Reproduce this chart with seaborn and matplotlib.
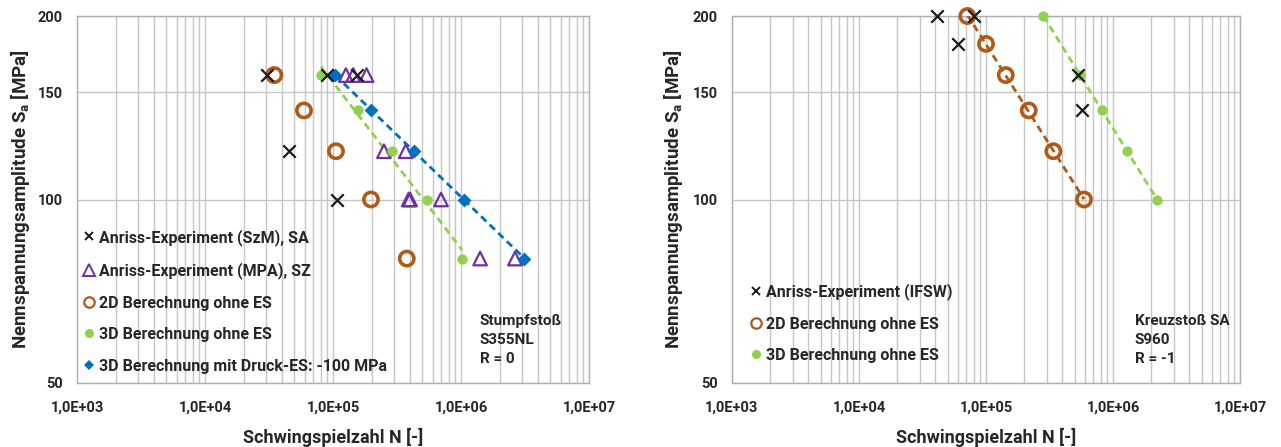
import numpy as np
import pandas as pd
import seaborn as sns
import matplotlib
matplotlib.use("Agg")
import matplotlib.pyplot as plt
from matplotlib.lines import Line2D
from matplotlib.ticker import FixedLocator, LogLocator, NullFormatter, FixedFormatter, NullLocator

# ---- Stumpfstoß S355NL, R = 0 ----
szm_N = [3.03e4, 9.03e4, 1.55e5, 4.56e4, 1.08e5]
szm_S = [160, 160, 160, 120, 100]
mpa_N = [1.26e5, 1.44e5, 1.83e5, 2.50e5, 3.70e5, 3.90e5, 4.00e5, 6.98e5, 1.41e6, 2.64e6]
mpa_S = [160, 160, 160, 120, 120, 100, 100, 100, 80, 80]
l2d_N = [3.48e4, 5.93e4, 1.055e5, 1.98e5, 3.77e5]
l2d_S = [160, 140, 120, 100, 80]
l3d_N = [8.06e4, 1.58e5, 2.89e5, 5.40e5, 1.02e6]
l3d_S = [160, 140, 120, 100, 80]
les_N = [1.04e5, 1.98e5, 4.32e5, 1.06e6, 3.12e6]
les_S = [160, 140, 120, 100, 80]

# ---- Kreuzstoß SA S960, R = -1 ----
ifsw_N = [4.09e4, 8.09e4, 6.05e4, 5.33e5, 5.67e5]
ifsw_S = [200, 200, 180, 160, 140]
r2d_N = [7.13e4, 1.00e5, 1.43e5, 2.17e5, 3.39e5, 5.91e5]
r2d_S = [200, 180, 160, 140, 120, 100]
r3d_N = [2.83e5, 5.50e5, 8.15e5, 1.30e6, 2.22e6]
r3d_S = [200, 160, 140, 120, 100]

x_ticks = [1e3, 1e4, 1e5, 1e6, 1e7]
x_labels = ["1,0E+03", "1,0E+04", "1,0E+05", "1,0E+06", "1,0E+07"]
y_ticks = [50, 100, 150, 200]
y_labels = ["50", "100", "150", "200"]

C_BLACK = "#1a1a1a"
C_PURPLE = "#7030A0"
C_ORANGE = "#B05A18"
C_GREEN = "#92D050"
C_BLUE = "#0070C0"
GRID = "#c6c6c6"
FONT = ['Roboto', 'DejaVu Sans']

sns.set_style("white")
plt.rcParams['font.family'] = FONT
plt.rcParams['font.weight'] = 'bold'
plt.rcParams['mathtext.fontset'] = 'custom'
plt.rcParams['mathtext.bf'] = 'Roboto:bold'
plt.rcParams['mathtext.rm'] = 'Roboto:bold'

fig = plt.figure(figsize=(12.81, 4.47), dpi=100)
ax1 = fig.add_axes([77 / 1281, 64 / 447, 512 / 1281, 367 / 447])
ax2 = fig.add_axes([732 / 1281, 64 / 447, 508 / 1281, 367 / 447])


def power_fit(ax, N, S, color):
    """Excel-style power trendline drawn across the data range."""
    b, a = np.polyfit(np.log(N), np.log(S), 1)
    xs = np.logspace(np.log10(min(N)), np.log10(max(N)), 60)
    df = pd.DataFrame({"N": xs, "S": np.exp(a) * xs ** b})
    sns.lineplot(data=df, x="N", y="S", ax=ax, color=color, lw=2.0,
                 linestyle=(0, (2.6, 1.7)), zorder=3)


def scatter(ax, N, S, **kw):
    df = pd.DataFrame({"N": N, "S": S})
    sns.scatterplot(data=df, x="N", y="S", ax=ax, clip_on=False, zorder=4, **kw)


def style_axes(ax):
    ax.set_xscale("log")
    ax.set_yscale("log")
    ax.set_xlim(1e3, 1e7)
    ax.set_ylim(50, 200)
    ax.xaxis.set_major_locator(FixedLocator(x_ticks))
    ax.xaxis.set_major_formatter(FixedFormatter(x_labels))
    ax.xaxis.set_minor_locator(LogLocator(base=10, subs=np.arange(2, 10)))
    ax.xaxis.set_minor_formatter(NullFormatter())
    ax.yaxis.set_major_locator(FixedLocator(y_ticks))
    ax.yaxis.set_major_formatter(FixedFormatter(y_labels))
    ax.yaxis.set_minor_locator(NullLocator())
    ax.grid(True, which="major", axis="both", color=GRID, lw=1.0, zorder=0)
    ax.grid(True, which="minor", axis="x", color=GRID, lw=1.0, zorder=0)
    ax.set_axisbelow(True)
    for s in ax.spines.values():
        s.set_color("#b0b0b0")
        s.set_linewidth(1.0)
    ax.tick_params(axis="both", which="both", length=0, labelsize=10.5)
    ax.tick_params(axis="x", pad=13)
    ax.tick_params(axis="y", pad=10)
    for t in ax.get_xticklabels() + ax.get_yticklabels():
        t.set_fontweight("bold")
        t.set_family(FONT)
    ax.set_xlabel("Schwingspielzahl N [-]", fontsize=13, fontweight="bold", family=FONT)
    ax.set_ylabel(r"Nennspannungsamplitude $\mathbf{S_a}$ [MPa]", fontsize=13.5,
                  fontweight="bold", family=FONT)
    ax.xaxis.label.set_verticalalignment("center")
    ax.yaxis.label.set_verticalalignment("center")
    ax.xaxis.set_label_coords(0.5, -0.147)


# ---- left panel ----
power_fit(ax1, l3d_N, l3d_S, C_GREEN)
power_fit(ax1, les_N, les_S, C_BLUE)
scatter(ax1, l2d_N, l2d_S, marker="o", s=105, facecolor="none", edgecolor=C_ORANGE, linewidth=2.6)
scatter(ax1, mpa_N, mpa_S, marker="^", s=95, facecolor="none", edgecolor=C_PURPLE, linewidth=1.6)
scatter(ax1, l3d_N, l3d_S, marker="o", s=55, color=C_GREEN, edgecolor=C_GREEN, linewidth=0)
scatter(ax1, les_N, les_S, marker="D", s=50, color=C_BLUE, edgecolor=C_BLUE, linewidth=0)
scatter(ax1, szm_N, szm_S, marker="x", s=80, color=C_BLACK, linewidth=1.6)
style_axes(ax1)
ax1.yaxis.set_label_coords(-0.111, 0.5)

h1 = [
    Line2D([], [], ls="none", marker="x", ms=6, mew=1.4, color=C_BLACK),
    Line2D([], [], ls="none", marker="^", ms=8, mew=1.4, mfc="none", mec=C_PURPLE),
    Line2D([], [], ls="none", marker="o", ms=7.5, mew=1.6, mfc="none", mec=C_ORANGE),
    Line2D([], [], ls="none", marker="o", ms=6.5, mew=0, color=C_GREEN),
    Line2D([], [], ls="none", marker="D", ms=5, mew=0, color=C_BLUE),
]
l1 = ["Anriss-Experiment (SzM), SA", "Anriss-Experiment (MPA), SZ",
      "2D Berechnung ohne ES", "3D Berechnung ohne ES",
      "3D Berechnung mit Druck-ES: -100 MPa"]
ax1.legend(h1, l1, loc="upper left", bbox_to_anchor=(0.012, 0.42), frameon=False,
           handlelength=0.7, handletextpad=0.3, labelspacing=1.03, borderpad=0,
           borderaxespad=0, prop={"weight": "bold", "size": 11.5, "family": FONT})
ax1.text(0.787, 0.117, "Stumpfstoß\nS355NL\nR = 0", transform=ax1.transAxes,
         ha="left", va="center", fontsize=11, fontweight="bold", linespacing=1.45,
         family=FONT)

# ---- right panel ----
power_fit(ax2, r2d_N, r2d_S, C_ORANGE)
power_fit(ax2, r3d_N, r3d_S, C_GREEN)
scatter(ax2, r2d_N, r2d_S, marker="o", s=105, facecolor="none", edgecolor=C_ORANGE, linewidth=2.6)
scatter(ax2, r3d_N, r3d_S, marker="o", s=55, color=C_GREEN, edgecolor=C_GREEN, linewidth=0)
scatter(ax2, ifsw_N, ifsw_S, marker="x", s=80, color=C_BLACK, linewidth=1.6)
style_axes(ax2)
ax2.yaxis.set_label_coords(-0.116, 0.5)

h2 = [h1[0], h1[2], h1[3]]
l2 = ["Anriss-Experiment (IFSW)", "2D Berechnung ohne ES", "3D Berechnung ohne ES"]
ax2.legend(h2, l2, loc="upper left", bbox_to_anchor=(0.036, 0.272), frameon=False,
           handlelength=0.7, handletextpad=0.3, labelspacing=1.03, borderpad=0,
           borderaxespad=0, prop={"weight": "bold", "size": 11.5, "family": FONT})
ax2.text(0.793, 0.117, "Kreuzstoß SA\nS960\nR = -1", transform=ax2.transAxes,
         ha="left", va="center", fontsize=11, fontweight="bold", linespacing=1.45,
         family=FONT)

fig.savefig("out.png", dpi=100)
